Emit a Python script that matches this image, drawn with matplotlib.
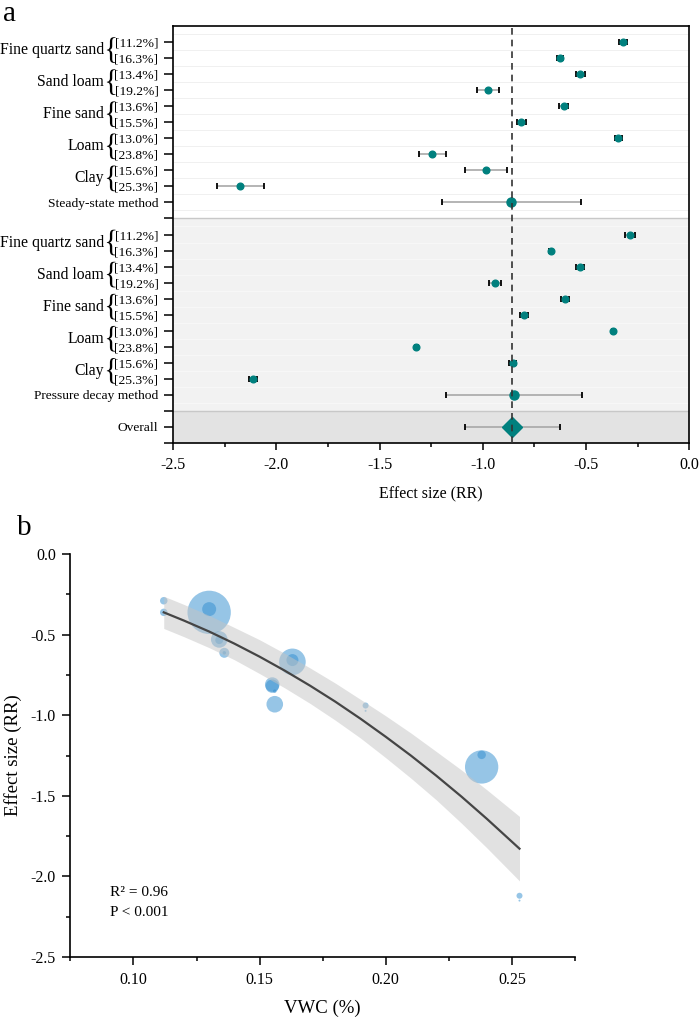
import matplotlib.pyplot as plt
from matplotlib.patches import PathPatch
from matplotlib.textpath import TextPath
from matplotlib.font_manager import FontProperties
from matplotlib.transforms import Affine2D
from matplotlib.ticker import MultipleLocator

plt.rcParams['font.family'] = ['Liberation Serif', 'DejaVu Serif']

# ---- panel a data ----
soils = ["Fine quartz sand", "Sand loam", "Fine sand", "Loam", "Clay"]
vwc_labels = ["[11.2%]", "[16.3%]", "[13.4%]", "[19.2%]", "[13.6%]",
              "[15.5%]", "[13.0%]", "[23.8%]", "[15.6%]", "[25.3%]"]

steady_rr = [-0.322, -0.627, -0.529, -0.975, -0.608, -0.814, -0.343, -1.246, -0.985, -2.177]
steady_lo = [-0.340, -0.642, -0.551, -1.027, -0.630, -0.835, -0.361, -1.311, -1.085, -2.287]
steady_hi = [-0.304, -0.612, -0.507, -0.921, -0.586, -0.791, -0.325, -1.180, -0.882, -2.061]
steady_sum = [-0.861, -1.198, -0.524]

pressure_rr = [-0.287, -0.672, -0.529, -0.940, -0.601, -0.801, -0.368, -1.321, -0.855, -2.114]
pressure_lo = [-0.312, -0.680, -0.549, -0.968, -0.621, -0.819, -0.373, -1.326, -0.873, -2.134]
pressure_hi = [-0.262, -0.664, -0.509, -0.912, -0.581, -0.783, -0.363, -1.316, -0.837, -2.094]
pressure_sum = [-0.851, -1.179, -0.518]

overall = [-0.857, -1.084, -0.624]

# ---- panel b data ----
vwc = [0.112, 0.112, 0.130, 0.130, 0.134, 0.134, 0.136, 0.136, 0.163, 0.163,
       0.155, 0.155, 0.156, 0.156, 0.192, 0.192, 0.238, 0.238, 0.253, 0.253]
rr = [-0.290, -0.362, -0.362, -0.342, -0.530, -0.534, -0.613, -0.613, -0.669, -0.658,
      -0.810, -0.820, -0.851, -0.932, -0.940, -0.973, -1.321, -1.246, -2.120, -2.150]
weight = [14, 14, 470, 49, 69, 16, 25, 3, 177, 36,
          53, 45, 3, 69, 9, 1, 278, 18, 9, 1]

fit_x = [0.112, 0.12, 0.13, 0.14, 0.15, 0.16, 0.17, 0.18, 0.19, 0.20, 0.21, 0.22, 0.23, 0.24, 0.253]
fit_y = [-0.362, -0.413, -0.481, -0.556, -0.637, -0.724, -0.817, -0.916, -1.022, -1.134,
         -1.251, -1.375, -1.505, -1.642, -1.828]
band_hi = [-0.262, -0.313, -0.381, -0.456, -0.532, -0.617, -0.707, -0.801, -0.902, -1.004,
           -1.111, -1.225, -1.340, -1.462, -1.628]
band_lo = [-0.462, -0.513, -0.581, -0.656, -0.742, -0.831, -0.927, -1.031, -1.142, -1.264,
           -1.391, -1.525, -1.670, -1.822, -2.028]

teal = '#00807e'

fig = plt.figure(figsize=(6.99, 10.21), dpi=100)

# =========== panel a ===========
ax = fig.add_axes([173 / 699, 1 - 443 / 1021, 516.3 / 699, 417 / 1021])

ax.axhspan(12, 24, color='#f2f2f2', lw=0, zorder=0)
ax.axhspan(24, 26, color='#e3e3e3', lw=0, zorder=0)
for i in range(12):
    ax.axhline(i + 0.5, color='#eeeeee', lw=0.6, zorder=0.5)
for i in range(12, 24):
    ax.axhline(i + 0.5, color='#f8f8f8', lw=0.6, zorder=0.5)
ax.axhline(12, color='#c8c8c8', lw=1.0, zorder=1)
ax.axhline(24, color='#c8c8c8', lw=1.0, zorder=1)


def draw_row(y, m, lo, hi, marker='o', ms=4.8):
    ax.hlines(y, lo, hi, color='#a8a8a8', lw=1.2, zorder=2)
    ax.plot([lo, hi], [y, y], ls='none', marker='|', ms=5, mew=1.3, color='k', zorder=3)
    ax.plot(m, y, marker=marker, ms=ms, color=teal, mec=teal, zorder=4)


steady_rows = list(range(1, 11))
pressure_rows = list(range(13, 23))
for y, m, lo, hi in zip(steady_rows, steady_rr, steady_lo, steady_hi):
    draw_row(y, m, lo, hi)
for y, m, lo, hi in zip(pressure_rows, pressure_rr, pressure_lo, pressure_hi):
    draw_row(y, m, lo, hi)
draw_row(11, steady_sum[0], steady_sum[1], steady_sum[2], ms=6.5)
draw_row(23, pressure_sum[0], pressure_sum[1], pressure_sum[2], ms=6.5)
draw_row(25, overall[0], overall[1], overall[2], marker='D', ms=10)

ax.axvline(overall[0], color='#333333', lw=1.2, ls=(0, (4, 3)), zorder=5)

ax.set_xlim(-2.5, 0.0)
ax.set_ylim(26, 0)
ax.xaxis.set_major_locator(MultipleLocator(0.5))
ax.xaxis.set_minor_locator(MultipleLocator(0.25))
ax.xaxis.set_major_formatter(plt.FormatStrFormatter('%.1f'))

ytl = vwc_labels + ["Steady-state method", ""] + vwc_labels + ["Pressure decay method", "", "Overall", ""]
ax.set_yticks(list(range(1, 27)))
ax.set_yticklabels(ytl)
ax.tick_params(axis='y', length=6.5, width=1.1, labelsize=9.7, pad=4)
ax.tick_params(axis='x', which='major', length=5, width=1.1, labelsize=11.5, pad=5)
ax.tick_params(axis='x', which='minor', length=3, width=1.1)
for s in ax.spines.values():
    s.set_linewidth(1.2)
ax.set_xlabel("Effect size (RR)", fontsize=11.5, labelpad=10)

# group names with braces
brace = TextPath((0, 0), "{", size=1, prop=FontProperties(family='Liberation Serif'))
ext = brace.get_extents()
for base in (1, 13):
    for k, name in enumerate(soils):
        ymid = base + 2 * k + 0.5
        ax.text(-0.134, ymid, name, transform=ax.get_yaxis_transform(),
                ha='right', va='center', fontsize=11.3, clip_on=False)
        h = 1.6
        tr = (Affine2D().translate(-ext.x0, -ext.y0)
              .scale(0.0165 / ext.width, -h / ext.height)
              .translate(-0.128, ymid + h / 2) + ax.get_yaxis_transform())
        p = PathPatch(brace, transform=tr, facecolor='black', lw=0, clip_on=False)
        ax.add_artist(p)

fig.text(0.004, 0.979, "a", fontsize=21, va='baseline')

# =========== panel b ===========
bx = fig.add_axes([70.4 / 699, 1 - 957 / 1021, 504.6 / 699, 403 / 1021])
bx.scatter(vwc, rr, s=[2.07 * w for w in weight], color='#2f8ccf', alpha=0.5, lw=0, zorder=2)
bx.fill_between(fit_x, band_lo, band_hi, color='#c4c4c4', alpha=0.5, lw=0, zorder=3)
bx.plot(fit_x, fit_y, color='#454545', lw=1.6, zorder=4)

bx.text(0.0905, -2.1, "R² = 0.96", fontsize=11, va='center')
bx.text(0.0905, -2.225, "P < 0.001", fontsize=11, va='center')

bx.set_xlim(0.075, 0.275)
bx.set_ylim(-2.5, 0.0)
bx.xaxis.set_major_locator(MultipleLocator(0.05))
bx.xaxis.set_minor_locator(MultipleLocator(0.025))
bx.yaxis.set_major_locator(MultipleLocator(0.5))
bx.yaxis.set_minor_locator(MultipleLocator(0.25))
bx.xaxis.set_major_formatter(plt.FormatStrFormatter('%.2f'))
bx.yaxis.set_major_formatter(plt.FormatStrFormatter('%.1f'))
bx.spines['top'].set_visible(False)
bx.spines['right'].set_visible(False)
for s in ('left', 'bottom'):
    bx.spines[s].set_linewidth(1.2)
bx.tick_params(which='major', length=5.5, width=1.1, labelsize=11.5, pad=5)
bx.tick_params(which='minor', length=3, width=1.1)
bx.set_xlabel("VWC (%)", fontsize=13.5, labelpad=9)
bx.set_ylabel("Effect size (RR)", fontsize=13.5, labelpad=6)

fig.text(0.024, 0.476, "b", fontsize=21, va='baseline')

fig.savefig("out.png", dpi=100)
